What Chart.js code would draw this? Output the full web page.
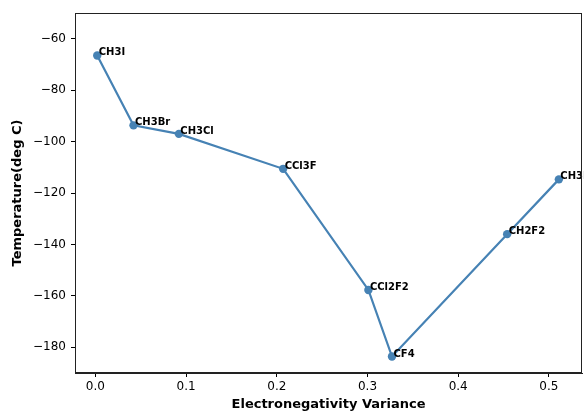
<!DOCTYPE html>
<html>
<head>
    <title>Temperature vs Electronegativity Variance</title>
    <script src="https://cdn.jsdelivr.net/npm/chart.js"></script>
    <style>
        body {
            margin: 0;
            padding: 0;
            background-color: #ffffff;
        }
        .chart-container {
            width: 584px;
            height: 412px;
            position: relative;
        }
    </style>
</head>
<body>
    <div class="chart-container">
        <canvas id="tempChart"></canvas>
    </div>

    <script>
        // data
        const compounds = ['CH3I', 'CH3Br', 'CH3Cl', 'CCl3F', 'CCl2F2', 'CF4', 'CH2F2', 'CH3F'];
        const variance = [0.002, 0.042, 0.092, 0.207, 0.301, 0.327, 0.454, 0.511];
        const temperature = [-66.5, -93.7, -97.0, -110.6, -157.7, -183.6, -136.0, -114.7];
        const xTicks = [0.0, 0.1, 0.2, 0.3, 0.4, 0.5];
        const yTicks = [-60, -80, -100, -120, -140, -160, -180];

        const lineColor = '#4682b4';
        const minus = v => String(v).replace('-', '\u2212');

        // box around the plot area + labels next to the points
        const framePlugin = {
            id: 'frame',
            afterDatasetsDraw(chart) {
                const c = chart.ctx;
                const a = chart.chartArea;
                c.save();
                c.font = 'bold 10px "DejaVu Sans"';
                c.fillStyle = '#000';
                c.textAlign = 'left';
                c.textBaseline = 'alphabetic';
                chart.getDatasetMeta(0).data.forEach((p, i) => {
                    c.fillText(compounds[i], p.x + 1.5, p.y);
                });
                c.strokeStyle = '#222';
                c.lineWidth = 1;
                c.strokeRect(a.left + 0.5, a.top + 0.5, a.right - a.left - 1, a.bottom - a.top - 1);
                c.restore();
            }
        };

        const tickFont = { family: 'DejaVu Sans', size: 12 };
        const titleFont = { family: 'DejaVu Sans', size: 13, weight: 'bold' };

        const ctx = document.getElementById('tempChart').getContext('2d');
        const chart = new Chart(ctx, {
            type: 'line',
            data: {
                datasets: [{
                    data: variance.map((v, i) => ({ x: v, y: temperature[i] })),
                    borderColor: lineColor,
                    backgroundColor: lineColor,
                    borderWidth: 2.2,
                    pointRadius: 4.2,
                    pointHoverRadius: 4.2,
                    pointBorderWidth: 0,
                    tension: 0
                }]
            },
            options: {
                responsive: true,
                maintainAspectRatio: false,
                animation: false,
                layout: {
                    autoPadding: false,
                    padding: { top: 13, right: 2, left: 0, bottom: 0 }
                },
                scales: {
                    x: {
                        type: 'linear',
                        min: -0.0225,
                        max: 0.5365,
                        afterBuildTicks: s => { s.ticks = xTicks.map(v => ({ value: v })); },
                        afterFit: s => { s.height = 39; },
                        ticks: {
                            font: tickFont,
                            color: '#000',
                            padding: 3,
                            maxRotation: 0,
                            callback: v => v.toFixed(1)
                        },
                        grid: {
                            drawOnChartArea: false,
                            drawTicks: true,
                            tickLength: 4,
                            color: '#000'
                        },
                        border: { color: '#222' },
                        title: {
                            display: true,
                            text: 'Electronegativity Variance',
                            font: titleFont,
                            color: '#000',
                            padding: { top: 0, bottom: 0 }
                        }
                    },
                    y: {
                        type: 'linear',
                        min: -190,
                        max: -50,
                        afterBuildTicks: s => { s.ticks = yTicks.map(v => ({ value: v })); },
                        afterFit: s => { s.width = 75; },
                        ticks: {
                            font: tickFont,
                            color: '#000',
                            padding: 5,
                            callback: v => minus(v)
                        },
                        grid: {
                            drawOnChartArea: false,
                            drawTicks: true,
                            tickLength: 4,
                            color: '#000'
                        },
                        border: { color: '#222' },
                        title: {
                            display: true,
                            text: 'Temperature(deg C)',
                            font: titleFont,
                            color: '#000',
                            padding: { top: 10, bottom: 0 }
                        }
                    }
                },
                plugins: {
                    legend: { display: false },
                    tooltip: { enabled: false }
                }
            },
            plugins: [framePlugin]
        });
    </script>
</body>
</html>
